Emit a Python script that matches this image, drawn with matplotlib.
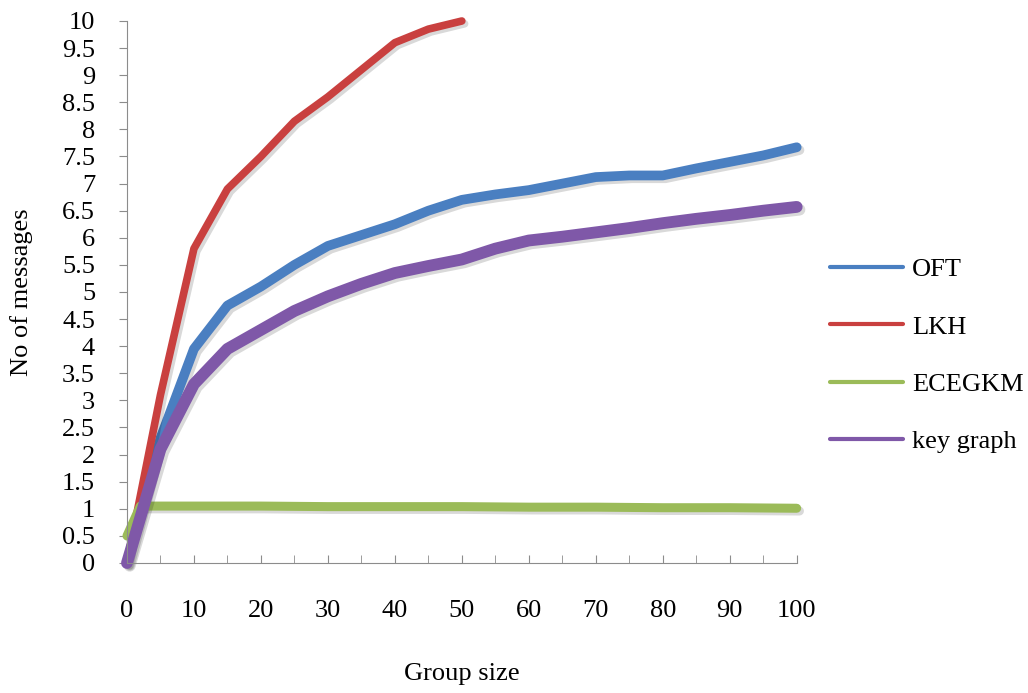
import matplotlib.pyplot as plt
import matplotlib.patheffects as pe
from matplotlib.ticker import MultipleLocator

# group sizes
x_oft = [0, 5, 10, 15, 20, 25, 30, 35, 40, 45, 50, 55, 60, 65, 70, 75, 80, 85, 90, 95, 100]
x_lkh = [0, 5, 10, 15, 20, 25, 30, 35, 40, 45, 50]
x_ece = [0, 2, 10, 20, 30, 40, 50, 60, 70, 80, 90, 100]
x_key = [0, 5, 10, 15, 20, 25, 30, 35, 40, 45, 50, 55, 60, 65, 70, 75, 80, 85, 90, 95, 100]

oft = [0, 2.3, 3.95, 4.75, 5.1, 5.5, 5.85, 6.05, 6.25, 6.5, 6.7, 6.8, 6.88, 7.0, 7.12, 7.15, 7.15, 7.28, 7.4, 7.52, 7.67]
lkh = [0, 3.1, 5.8, 6.9, 7.5, 8.15, 8.6, 9.1, 9.6, 9.85, 10.0]
ecegkm = [0.5, 1.05, 1.05, 1.05, 1.04, 1.04, 1.04, 1.03, 1.03, 1.02, 1.02, 1.01]
keygraph = [0, 2.1, 3.3, 3.95, 4.3, 4.65, 4.92, 5.15, 5.35, 5.48, 5.6, 5.8, 5.95, 6.02, 6.1, 6.18, 6.27, 6.35, 6.42, 6.5, 6.57]

plt.rcParams['font.family'] = ['Liberation Serif', 'DejaVu Serif']
fs = 19

fig = plt.figure(figsize=(10.28, 6.93), dpi=100)
ax = fig.add_axes([0.1235, 0.1876, 0.6515, 0.7821])

shadow = [pe.SimpleLineShadow(offset=(2, -2), alpha=0.15), pe.Normal()]
series = [
    (x_oft, oft, 'OFT', '#4a7fc1', 7),
    (x_lkh, lkh, 'LKH', '#c9403f', 5.5),
    (x_ece, ecegkm, 'ECEGKM', '#9bbb59', 6.5),
    (x_key, keygraph, 'key graph', '#7f58a8', 8.5),
]
for xs, ys, name, col, lw in series:
    ax.plot(xs, ys, color=col, lw=lw, label=name, solid_capstyle='round',
            solid_joinstyle='round', clip_on=False, path_effects=shadow)

ax.set_xlim(0, 100)
ax.set_ylim(0, 10)
ax.xaxis.set_major_locator(MultipleLocator(10))
ax.xaxis.set_minor_locator(MultipleLocator(5))
ax.yaxis.set_major_locator(MultipleLocator(0.5))
ax.yaxis.set_major_formatter(plt.FuncFormatter(lambda v, p: f"{v:g}"))

for s in ['top', 'right']:
    ax.spines[s].set_visible(False)
for s in ['left', 'bottom']:
    ax.spines[s].set_color('#8c8c8c')

ax.tick_params(axis='x', which='both', direction='in', length=6, color='#8c8c8c',
               labelsize=fs, pad=27)
ax.tick_params(axis='y', direction='out', length=6, color='#8c8c8c',
               labelsize=fs, pad=17)

ax.set_xlabel('Group size', fontsize=fs, labelpad=29)
ax.set_ylabel('No of messages', fontsize=fs, labelpad=21)

leg = ax.legend(loc='center left', bbox_to_anchor=(1.05, 0.383), frameon=False,
                fontsize=fs, handlelength=2.75, labelspacing=1.28,
                handletextpad=0.35, borderpad=0, borderaxespad=0)
for ln in leg.get_lines():
    ln.set_linewidth(3)
    ln.set_path_effects([])

fig.savefig('out.png', dpi=100)
